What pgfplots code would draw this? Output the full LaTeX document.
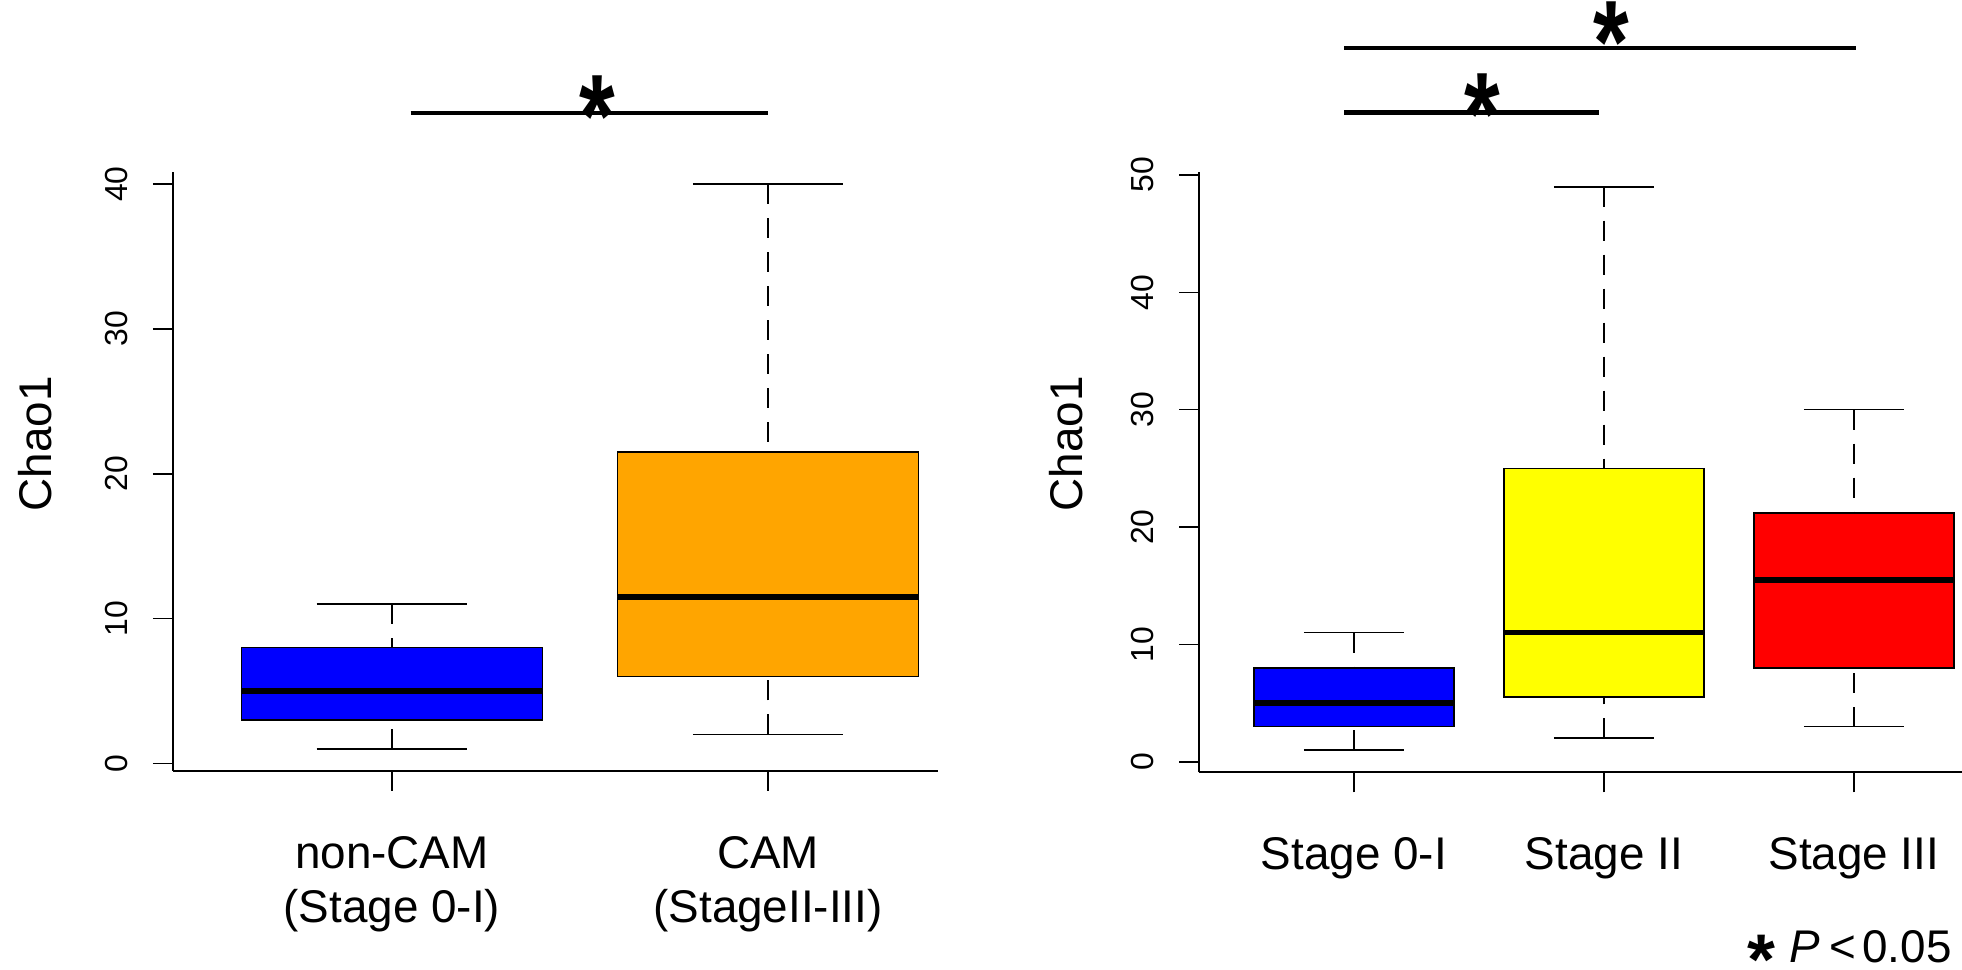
\documentclass[border=0pt]{standalone}
\usepackage{fontspec}
\setmainfont{Liberation Sans}
\usepackage{pgfplots}
\pgfplotsset{compat=1.18}
\usepgfplotslibrary{statistics}
\definecolor{Rblue}{RGB}{0,0,255}
\definecolor{Rorange}{RGB}{255,165,0}
\definecolor{Ryellow}{RGB}{255,255,0}
\definecolor{Rred}{RGB}{255,0,0}
\tikzset{sigstar/.style={font=\fontsize{46}{46}\selectfont\bfseries, inner sep=0pt, anchor=base, yshift=-28.7bp}}
\newcommand{\sigast}{\scalebox{1}[1.28]{*}}
\pgfplotsset{
  boxplot/draw/lower whisker/.code={},
  boxplot/draw/upper whisker/.code={},
  whiskstem/.style={black, line width=0.8bp, dash pattern=on 10bp off 7bp, mark=none, forget plot},
  whiskcap/.style={black, line width=0.8bp, mark=none, forget plot},
  rbox/.style={
    scale only axis,
    axis x line*=bottom, axis y line*=left,
    axis line style={line width=0.8bp, -},
    tick style={line width=0.8bp, black},
    tick align=outside,
    major tick length=10bp,
    clip=false,
    /pgf/number format/assume math mode=true,
    yticklabel style={rotate=90, anchor=south, inner sep=0pt, font=\fontsize{16}{19}\selectfont},
    yticklabel shift=12.5bp,
    xticklabel style={anchor=base, inner sep=0pt, align=center, font=\fontsize{23}{27.2}\selectfont},
    boxplot/draw direction=y,
    boxplot/box extend=0.8,
    boxplot/every box/.style={draw=black, line width=0.75bp},
    boxplot/every median/.style={draw=black, line width=2.75bp},
  },
}
\begin{document}
\begin{tikzpicture}
\useasboundingbox (0,0) rectangle (981bp,485bp);
% ---------------- left panel ----------------
\begin{axis}[rbox,
  at={(86.5bp,99.5bp)}, anchor=south west,
  width=382.35bp, height=299.65bp,
  xmin=0.418, xmax=2.451, ymin=-0.53, ymax=40.86,
  xtick={1,2}, xticklabels={{non-CAM\\(Stage 0-I)},{CAM\\(StageII-III)}},
  xticklabel shift=65.7bp,
  ytick={0,10,20,30,40},
]
% whiskers: dashed stems from whisker end to box, solid caps
\addplot[whiskstem] coordinates {(1,1) (1,3)};
\addplot[whiskstem] coordinates {(1,11) (1,8)};
\addplot[whiskcap] coordinates {(0.8,1) (1.2,1)};
\addplot[whiskcap] coordinates {(0.8,11) (1.2,11)};
\addplot[whiskstem] coordinates {(2,2) (2,6)};
\addplot[whiskstem] coordinates {(2,40) (2,21.5)};
\addplot[whiskcap] coordinates {(1.8,2) (2.2,2)};
\addplot[whiskcap] coordinates {(1.8,40) (2.2,40)};
\addplot[fill=Rblue, draw=black, boxplot prepared={draw position=1,
  lower whisker=1, lower quartile=3, median=5, upper quartile=8, upper whisker=11}]
  coordinates {};
\addplot[fill=Rorange, draw=black, boxplot prepared={draw position=2,
  lower whisker=2, lower quartile=6, median=11.5, upper quartile=21.5, upper whisker=40}]
  coordinates {};
\draw[line width=2.25bp] (axis cs:1.05,44.9) -- (axis cs:2.0,44.9);
\node[sigstar] at (axis cs:1.546,45.88) {\sigast};
\end{axis}
% ---------------- right panel ----------------
\begin{axis}[rbox,
  at={(599.5bp,98.85bp)}, anchor=south west,
  width=381.5bp, height=300.3bp,
  xmin=0.38, xmax=3.433, ymin=-0.90, ymax=50.28,
  xtick={1,2,3}, xticklabels={Stage 0-I,Stage II,Stage III},
  xticklabel shift=38.5bp,
  ytick={0,10,20,30,40,50},
]
\addplot[whiskstem] coordinates {(1,1) (1,3)};
\addplot[whiskstem] coordinates {(1,11) (1,8)};
\addplot[whiskcap] coordinates {(0.8,1) (1.2,1)};
\addplot[whiskcap] coordinates {(0.8,11) (1.2,11)};
\addplot[whiskstem] coordinates {(2,2) (2,5.5)};
\addplot[whiskstem] coordinates {(2,49) (2,25)};
\addplot[whiskcap] coordinates {(1.8,2) (2.2,2)};
\addplot[whiskcap] coordinates {(1.8,49) (2.2,49)};
\addplot[whiskstem] coordinates {(3,3) (3,8)};
\addplot[whiskstem] coordinates {(3,30) (3,21.2)};
\addplot[whiskcap] coordinates {(2.8,3) (3.2,3)};
\addplot[whiskcap] coordinates {(2.8,30) (3.2,30)};
\addplot[fill=Rblue, draw=black, boxplot prepared={draw position=1,
  lower whisker=1, lower quartile=3, median=5, upper quartile=8, upper whisker=11}]
  coordinates {};
\addplot[fill=Ryellow, draw=black, boxplot prepared={draw position=2,
  lower whisker=2, lower quartile=5.5, median=11, upper quartile=25, upper whisker=49}]
  coordinates {};
\addplot[fill=Rred, draw=black, boxplot prepared={draw position=3,
  lower whisker=3, lower quartile=8, median=15.5, upper quartile=21.2, upper whisker=30}]
  coordinates {};
\draw[line width=2.25bp] (axis cs:0.962,60.8) -- (axis cs:3.007,60.8);
\node[sigstar] at (axis cs:2.031,62.74) {\sigast};
\draw[line width=2.25bp] (axis cs:0.962,55.31) -- (axis cs:1.979,55.31);
\node[sigstar] at (axis cs:1.514,56.67) {\sigast};
\end{axis}
% ---------------- labels ----------------
\node[rotate=90, font=\fontsize{23}{27}\selectfont] at (17.7bp,263bp) {Chao1};
\node[rotate=90, font=\fontsize{23}{27}\selectfont] at (533.3bp,263bp) {Chao1};
\node[anchor=base east, inner sep=0pt, font=\fontsize{23}{26}\selectfont] at (976bp,4bp)
  {\raisebox{-11bp}[0pt][0pt]{\fontsize{36}{36}\selectfont\bfseries *}\hspace{7bp}\textit{P}\hspace{5bp}<\hspace{3bp}0.05};
\end{tikzpicture}
\end{document}
